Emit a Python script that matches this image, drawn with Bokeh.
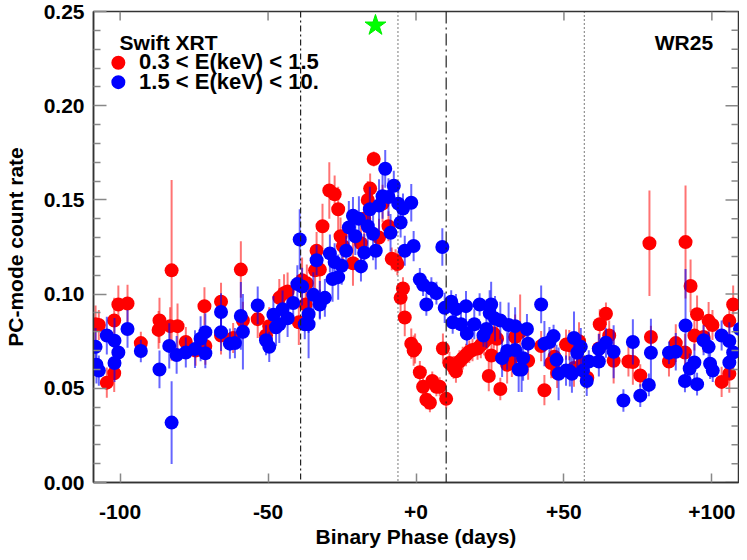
from math import pi
from bokeh.plotting import figure
from bokeh.models import ColumnDataSource, FixedTicker, Span, Label, PrintfTickFormatter, Range1d
from bokeh.embed import file_html
from bokeh.resources import INLINE

# ---------------- data ----------------
# 0.3 < E(keV) < 1.5  (soft band)
soft_phase = [-108.3, -107.2, -104.5, -102.0, -102.0, -100.6, -97.5, -93.0, -87.0, -86.7,
              -83.1, -82.6, -80.6, -77.8, -74.5, -71.5, -71.2, -65.9, -65.9, -61.8,
              -59.2, -58.5, -53.5, -50.7, -49.6, -46.2, -44.6, -43.4, -39.6, -38.5,
              -37.3, -36.9, -34.1, -33.6, -32.5, -31.6, -29.3, -27.5, -26.3, -25.5,
              -24.7, -21.3, -18.6, -17.5, -16.3, -15.5, -14.3, -12.5, -11.3, -9.3,
              -8.2, -6.9, -6.3, -5.2, -4.4, -3.8, -1.6, -0.8, -0.3, 1.3,
              2.4, 3.5, 4.7, 5.5, 6.9, 8.0, 9.1, 10.2, 11.3, 12.7,
              13.5, 14.7, 15.8, 16.9, 18.0, 19.1, 20.8, 21.9, 23.0, 24.1,
              24.6, 25.5, 26.3, 27.4, 28.5, 30.8, 32.4, 33.5, 35.2, 37.9,
              42.3, 43.4, 45.7, 46.8, 47.7, 50.7, 51.8, 53.4, 55.1, 56.2,
              57.9, 61.8, 62.1, 64.2, 65.3, 66.8, 71.8, 73.3, 75.8, 78.9,
              79.4, 85.5, 87.8, 90.9, 91.1, 92.8, 94.1, 95.0, 97.2, 98.9,
              100.2, 103.3, 105.9, 105.9, 107.2]
soft_rate = [0.084, 0.0836, 0.053, 0.086, 0.058, 0.0945, 0.095, 0.074, 0.081, 0.086,
             0.083, 0.1126, 0.083, 0.0746, 0.070, 0.0936, 0.0725, 0.096, 0.078, 0.0767,
             0.113, 0.086, 0.0867, 0.078, 0.083, 0.098, 0.1005, 0.1014, 0.085, 0.1074,
             0.0945, 0.1057, 0.1126, 0.123, 0.113, 0.136, 0.155, 0.153, 0.145, 0.1307,
             0.1255, 0.1164, 0.127, 0.140, 0.150, 0.156, 0.1717, 0.130, 0.148, 0.136,
             0.1187, 0.1178, 0.116, 0.098, 0.103, 0.0876, 0.0737, 0.070, 0.0711, 0.0585,
             0.0508, 0.0439, 0.0423, 0.0539, 0.0508, 0.0508, 0.0711, 0.0444, 0.0634, 0.0611,
             0.059, 0.0642, 0.066, 0.0677, 0.0694, 0.0703, 0.0711, 0.0729, 0.0746, 0.0763,
             0.0565, 0.0674, 0.079, 0.0763, 0.0496, 0.0625, 0.066, 0.0772, 0.0798, 0.0646,
             0.0724, 0.049, 0.0634, 0.0668, 0.0582, 0.0732, 0.0729, 0.0608, 0.075, 0.0634,
             0.0556, 0.0711, 0.084, 0.0896, 0.078, 0.0646, 0.0642, 0.0639, 0.0568, 0.127,
             0.0772, 0.0642, 0.074, 0.069, 0.1276, 0.1043, 0.078, 0.0893, 0.0772, 0.0858,
             0.0836, 0.0534, 0.0577, 0.0858, 0.0945]
soft_err = [0.010, 0.008, 0.008, 0.012, 0.010, 0.010, 0.010, 0.006, 0.010, 0.012,
            0.010, 0.048, 0.012, 0.008, 0.008, 0.010, 0.010, 0.010, 0.010, 0.008,
            0.015, 0.010, 0.010, 0.008, 0.010, 0.010, 0.010, 0.010, 0.012, 0.012,
            0.010, 0.010, 0.010, 0.010, 0.012, 0.012, 0.015, 0.010, 0.012, 0.010,
            0.010, 0.012, 0.010, 0.010, 0.010, 0.008, 0.004, 0.010, 0.010, 0.008,
            0.006, 0.006, 0.006, 0.008, 0.006, 0.010, 0.008, 0.008, 0.008, 0.006,
            0.006, 0.005, 0.005, 0.005, 0.005, 0.005, 0.008, 0.005, 0.006, 0.006,
            0.006, 0.006, 0.006, 0.006, 0.006, 0.006, 0.006, 0.007, 0.007, 0.007,
            0.008, 0.008, 0.008, 0.012, 0.006, 0.010, 0.010, 0.012, 0.020, 0.010,
            0.008, 0.008, 0.008, 0.008, 0.008, 0.008, 0.008, 0.010, 0.010, 0.008,
            0.006, 0.008, 0.008, 0.006, 0.008, 0.012, 0.008, 0.012, 0.006, 0.028,
            0.006, 0.008, 0.010, 0.010, 0.030, 0.014, 0.008, 0.010, 0.008, 0.010,
            0.008, 0.008, 0.010, 0.008, 0.010]

# 1.5 < E(keV) < 10.  (hard band)
hard_phase = [-108.3, -108.0, -107.2, -104.5, -101.9, -101.9, -100.6, -97.5, -93.0, -86.7,
              -83.4, -82.6, -80.9, -77.8, -74.7, -72.8, -71.2, -71.2, -65.9, -65.9,
              -62.9, -61.2, -59.2, -58.5, -53.5, -50.7, -49.6, -48.2, -47.3, -46.2,
              -45.1, -43.4, -41.5, -40.1, -39.3, -38.5, -37.6, -36.3, -36.3, -34.7,
              -33.6, -32.5, -32.5, -30.8, -29.1, -28.2, -27.5, -26.3, -25.1, -23.6,
              -22.7, -21.3, -20.5, -19.3, -18.6, -17.5, -16.3, -15.6, -14.5, -13.6,
              -12.5, -11.3, -10.4, -9.3, -8.6, -7.5, -6.0, -5.2, -4.4, -3.8,
              -1.6, -0.8, 1.3, 2.4, 3.5, 5.2, 6.9, 8.9, 9.7, 11.9,
              12.4, 13.5, 15.2, 16.9, 17.2, 19.7, 21.5, 22.8, 23.8, 24.9,
              25.4, 26.7, 28.5, 29.1, 30.8, 31.3, 33.5, 33.5, 34.7, 35.7,
              36.2, 37.5, 37.9, 42.3, 43.4, 45.1, 46.5, 47.5, 48.2, 50.7,
              52.0, 52.7, 53.4, 54.5, 55.7, 56.4, 57.7, 58.4, 61.8, 61.8,
              64.2, 66.8, 70.1, 73.3, 75.8, 78.7, 79.4, 85.5, 87.8, 90.9,
              91.1, 92.5, 94.1, 95.0, 97.2, 98.9, 99.4, 100.3, 103.3, 105.9,
              105.9, 107.2, 109.5]
hard_rate = [0.072, 0.0625, 0.0594, 0.078, 0.0753, 0.0634, 0.069, 0.0815, 0.0698, 0.060,
             0.0725, 0.0318, 0.0677, 0.069, 0.0708, 0.0763, 0.0798, 0.0686, 0.0905, 0.0798,
             0.0737, 0.074, 0.0884, 0.080, 0.094, 0.0755, 0.072, 0.089, 0.0824, 0.084,
             0.0919, 0.0872, 0.0953, 0.1053, 0.129, 0.104, 0.084, 0.0893, 0.084, 0.0996,
             0.118, 0.097, 0.0945, 0.098, 0.1216, 0.108, 0.117, 0.109, 0.115, 0.123,
             0.1354, 0.1416, 0.1307, 0.140, 0.1147, 0.122, 0.136, 0.145, 0.132, 0.123,
             0.147, 0.152, 0.1665, 0.1515, 0.1325, 0.1575, 0.148, 0.138, 0.1454, 0.123,
             0.1485, 0.1255, 0.1078, 0.105, 0.0945, 0.103, 0.1005, 0.125, 0.0927, 0.096,
             0.085, 0.092, 0.084, 0.0936, 0.079, 0.084, 0.0945, 0.078, 0.0815, 0.090,
             0.0945, 0.087, 0.086, 0.066, 0.0698, 0.0836, 0.083, 0.0703, 0.060, 0.060,
             0.066, 0.0815, 0.0737, 0.0945, 0.0737, 0.0746, 0.0777, 0.0651, 0.0577, 0.0594,
             0.059, 0.0577, 0.0767, 0.0689, 0.072, 0.0594, 0.0539, 0.0642, 0.0642, 0.0708,
             0.0742, 0.0694, 0.0435, 0.0746, 0.0461, 0.0518, 0.0689, 0.0689, 0.0694, 0.0539,
             0.0833, 0.0605, 0.0637, 0.0522, 0.0755, 0.072, 0.063, 0.0594, 0.078, 0.0751,
             0.0637, 0.069, 0.0815]
hard_err = [0.010, 0.010, 0.008, 0.010, 0.012, 0.010, 0.008, 0.010, 0.006, 0.010,
            0.012, 0.022, 0.010, 0.008, 0.010, 0.012, 0.010, 0.008, 0.010, 0.010,
            0.008, 0.008, 0.018, 0.020, 0.010, 0.008, 0.008, 0.010, 0.010, 0.010,
            0.010, 0.010, 0.010, 0.010, 0.016, 0.010, 0.008, 0.010, 0.018, 0.012,
            0.008, 0.010, 0.008, 0.010, 0.010, 0.012, 0.010, 0.012, 0.010, 0.008,
            0.014, 0.010, 0.010, 0.012, 0.008, 0.010, 0.012, 0.012, 0.014, 0.010,
            0.014, 0.012, 0.010, 0.010, 0.010, 0.008, 0.008, 0.008, 0.008, 0.008,
            0.010, 0.008, 0.006, 0.006, 0.006, 0.006, 0.006, 0.010, 0.008, 0.006,
            0.006, 0.008, 0.006, 0.008, 0.006, 0.008, 0.006, 0.006, 0.010, 0.012,
            0.012, 0.012, 0.010, 0.010, 0.010, 0.012, 0.010, 0.010, 0.012, 0.012,
            0.012, 0.008, 0.008, 0.010, 0.012, 0.008, 0.006, 0.008, 0.014, 0.008,
            0.008, 0.010, 0.014, 0.010, 0.010, 0.008, 0.008, 0.006, 0.008, 0.008,
            0.008, 0.014, 0.006, 0.012, 0.006, 0.006, 0.018, 0.006, 0.010, 0.006,
            0.030, 0.008, 0.010, 0.006, 0.008, 0.008, 0.008, 0.006, 0.008, 0.010,
            0.008, 0.008, 0.008]

x_ticks = [-100, -50, 0, 50, 100]
x_tick_labels = ["-100", "-50", "+0", "+50", "+100"]
y_ticks = [0.0, 0.05, 0.10, 0.15, 0.20, 0.25]
y_minor = [0.01, 0.02, 0.03, 0.04, 0.06, 0.07, 0.08, 0.09, 0.11, 0.12, 0.13, 0.14,
           0.16, 0.17, 0.18, 0.19, 0.21, 0.22, 0.23, 0.24]

marker_phases = [-39.0, -6.1, 10.2, 56.9]
marker_dashes = ["6 3 2 3", "1 3", "12 4 2 4", "1 3"]
periastron_phase = [-13.7]
periastron_rate = [0.2426]

X_MIN, X_MAX = -109.0, 109.0
Y_MIN, Y_MAX = 0.0, 0.25

FONT = "Liberation Sans"
axis_color = "#333333"
tick_color = "#888888"

p = figure(width=739, height=552, output_backend="svg", toolbar_location=None,
           x_range=Range1d(X_MIN, X_MAX), y_range=Range1d(Y_MIN, Y_MAX),
           min_border_left=92, min_border_right=1, min_border_top=11, min_border_bottom=70)
p.xgrid.visible = False
p.ygrid.visible = False
p.outline_line_color = axis_color
p.outline_line_width = 1.5
p.background_fill_color = "white"

soft = ColumnDataSource(dict(x=soft_phase, y=soft_rate,
                             lo=[r - e for r, e in zip(soft_rate, soft_err)],
                             hi=[r + e for r, e in zip(soft_rate, soft_err)]))
hard = ColumnDataSource(dict(x=hard_phase, y=hard_rate,
                             lo=[r - e for r, e in zip(hard_rate, hard_err)],
                             hi=[r + e for r, e in zip(hard_rate, hard_err)]))

for ph, d in zip(marker_phases, marker_dashes):
    p.add_layout(Span(location=ph, dimension="height", line_color="#222222",
                      line_width=1.2, line_dash=d))

p.segment(x0="x", x1="x", y0="lo", y1="hi", source=soft, line_color="#ff0000",
          line_alpha=0.55, line_width=2)
p.scatter(x="x", y="y", source=soft, size=14, fill_color="#ff0000", line_color=None)
p.segment(x0="x", x1="x", y0="lo", y1="hi", source=hard, line_color="#0000ff",
          line_alpha=0.6, line_width=2)
p.scatter(x="x", y="y", source=hard, size=14, fill_color="#0000ff", line_color=None)

p.scatter(x=periastron_phase, y=periastron_rate, marker="star", size=22,
          fill_color="#00ff00", line_color="#00ee00")

# mirrored ticks on the top and right edges (inward)
p.ray(x=x_ticks, y=[Y_MAX] * len(x_ticks), length=9, length_units="screen",
      angle=-pi / 2, line_color=tick_color, line_width=1.5)
p.ray(x=[X_MAX] * len(y_ticks), y=y_ticks, length=13, length_units="screen",
      angle=pi, line_color=tick_color, line_width=1.5)
p.ray(x=[X_MAX] * len(y_minor), y=y_minor, length=7, length_units="screen",
      angle=pi, line_color=tick_color, line_width=1.5)

# legend
def label(**kw):
    base = dict(text_font=FONT, text_font_style="bold", text_color="black",
                text_baseline="middle")
    base.update(kw)
    p.add_layout(Label(**base))

label(x=-100.2, y=0.2337, text="Swift XRT", text_font_size="21px")
p.scatter(x=[-100.6], y=[0.2228], size=14, fill_color="#ff0000", line_color=None)
p.scatter(x=[-100.6], y=[0.2125], size=14, fill_color="#0000ff", line_color=None)
label(x=-93.6, y=0.2233, text="0.3 < E(keV) < 1.5", text_font_size="22px")
label(x=-93.6, y=0.2130, text="1.5 < E(keV) < 10.", text_font_size="22px")
label(x=100.4, y=0.2337, text="WR25", text_font_size="21px", text_align="right")

xa = p.xaxis[0]
xa.ticker = FixedTicker(ticks=x_ticks)
xa.major_label_overrides = {t: l for t, l in zip(x_ticks, x_tick_labels)}
xa.major_tick_in = 9
xa.major_tick_out = 0
xa.minor_tick_line_color = None
xa.major_label_standoff = 22
xa.axis_label = "Binary Phase (days)"
xa.axis_label_standoff = 3

ya = p.yaxis[0]
ya.ticker = FixedTicker(ticks=y_ticks, minor_ticks=y_minor)
ya.formatter = PrintfTickFormatter(format="%.2f")
ya.major_tick_in = 13
ya.major_tick_out = 0
ya.minor_tick_in = 7
ya.minor_tick_out = 0
ya.minor_tick_line_color = tick_color
ya.major_label_standoff = 9
ya.axis_label = "PC-mode count rate"
ya.axis_label_standoff = 14

for ax in [xa, ya]:
    ax.axis_line_color = axis_color
    ax.axis_line_width = 1.5
    ax.major_tick_line_color = tick_color
    ax.major_tick_line_width = 1.5
    ax.minor_tick_line_width = 1.5
    ax.major_label_text_font = FONT
    ax.major_label_text_font_style = "bold"
    ax.major_label_text_color = "black"
    ax.major_label_text_font_size = "21px"
    ax.axis_label_text_font = FONT
    ax.axis_label_text_font_style = "bold"
    ax.axis_label_text_color = "black"
    ax.axis_label_text_font_size = "21px"

open("out.html", "w").write(file_html(p, INLINE))
